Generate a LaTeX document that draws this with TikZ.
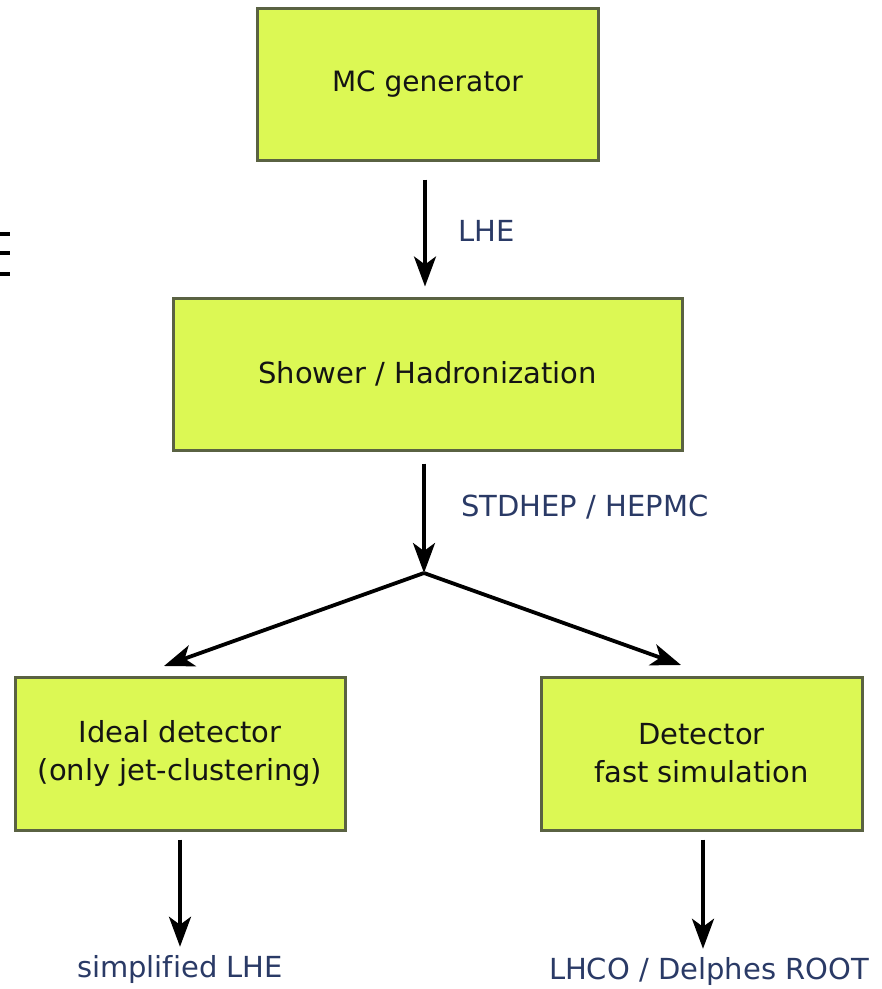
\documentclass[tikz,border=0pt]{standalone}
\usepackage{fontspec}
\setmainfont{DejaVu Sans}[Ligatures={NoCommon}]
\usetikzlibrary{arrows.meta,calc}
\definecolor{boxfill}{RGB}{220,248,84}
\definecolor{boxline}{RGB}{90,98,66}
\definecolor{lblblue}{RGB}{42,58,102}
\begin{document}
\begin{tikzpicture}[x=1pt,y=-1pt,
  box/.style={draw=boxline,line width=3pt,fill=boxfill,inner sep=0pt,
    align=center,font=\fontsize{29}{38}\selectfont,text=black!92},
  lbl/.style={text=lblblue,font=\fontsize{29}{34}\selectfont,inner sep=0pt},
  arr/.style={line width=3.8pt,-{Stealth[length=30pt,width=22pt,inset=8pt]}}]
\useasboundingbox (0,0) rectangle (882,989);
% fragment at left edge
\fill[black] (0,232) rectangle (10,236);
\fill[black] (0,251) rectangle (10,255);
\fill[black] (0,272) rectangle (10,276);
% boxes
\node[box,minimum width=341pt,minimum height=152pt,font=\fontsize{28}{38}\selectfont] (mc) at (427.5,84) {MC generator};
\node[box,minimum width=509pt,minimum height=152pt] (shower) at (427.5,374) {Shower / Hadronization};
\node[box,minimum width=330pt,minimum height=153pt] (ideal) at (180,753.5) {Ideal detector\\(only jet-clustering)};
\node[box,minimum width=321pt,minimum height=153pt] (det) at (701.5,753.5) {Detector\\fast simulation};
% labels
\node[lbl,anchor=west] (lhe) at (458,231) {LHE};
\node[lbl,anchor=west] (std) at (461,507) {STDHEP / HEPMC};
\node[lbl] (outL) at (180,969) {simplified LHE};
\node[lbl] (outR) at (709,971) {LHCO / Delphes ROOT};
% coordinates
\coordinate (j) at (424,573);
\coordinate (tl) at (164,666);
\coordinate (tr) at (681,665);
% connectors
\draw[arr,shorten <=18pt,shorten >=10pt] ([xshift=-2.5pt]mc.south) -- ([xshift=-2.5pt]shower.north);
\draw[arr,shorten <=12pt] ([xshift=-3.5pt]shower.south) -- (j);
\draw[arr] (j) -- (tl);
\draw[arr] (j) -- (tr);
\draw[arr,shorten <=8pt] (ideal.south) -- ([yshift=8pt]outL.north);
\draw[arr,shorten <=8pt] ([xshift=1.5pt]det.south) -- ([xshift=1.5pt,yshift=8pt]det.south |- outR.north);
\end{tikzpicture}
\end{document}
